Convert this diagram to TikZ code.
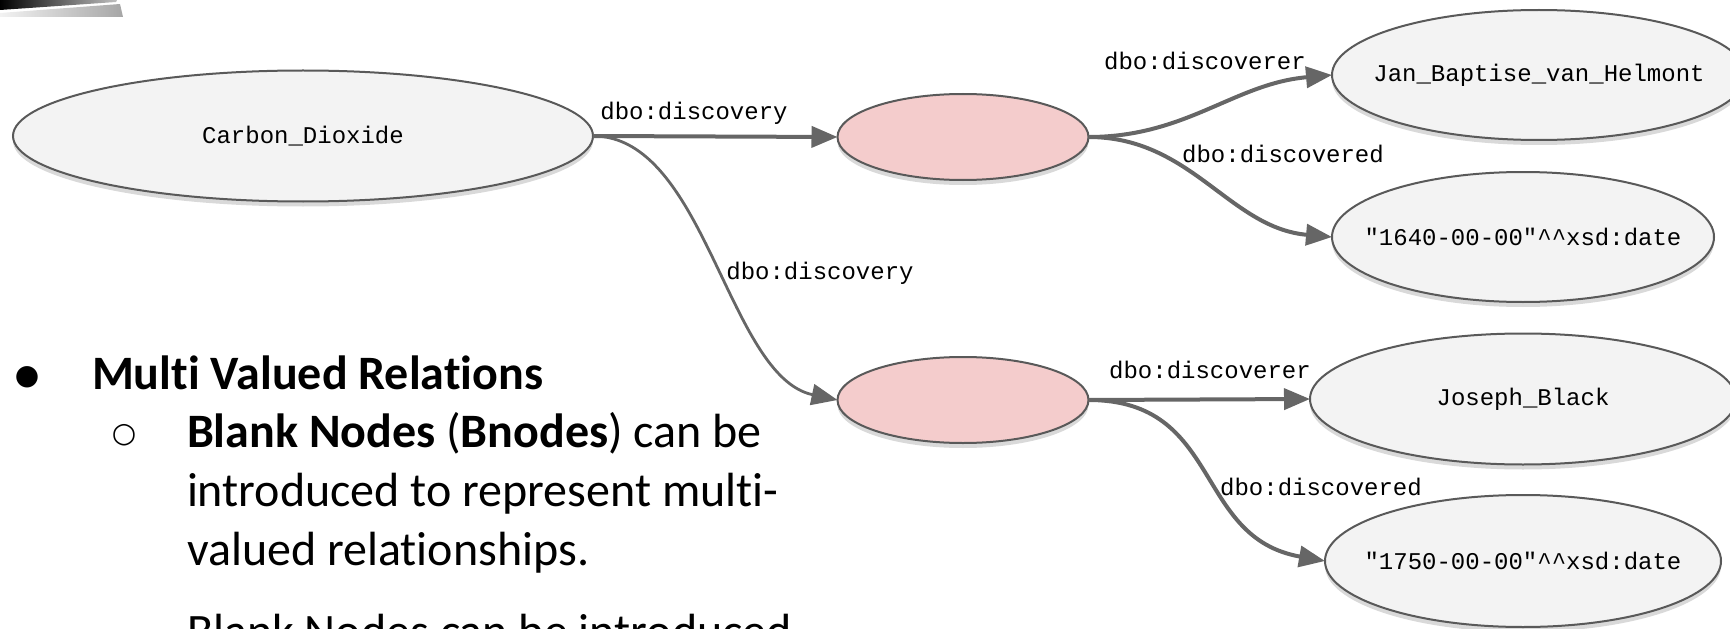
\documentclass[tikz,border=0pt]{standalone}
\usepackage{fontspec}
\setmainfont{Carlito}[Ligatures={NoCommon}]
\setmonofont{Liberation Mono}
\newfontfamily\bulletfont{DejaVu Sans}
\usepackage{xcolor}
\usetikzlibrary{shapes.geometric,shadows,arrows.meta}
\definecolor{nodefill}{HTML}{F3F3F3}
\definecolor{blankfill}{HTML}{F4CCCC}
\definecolor{edgegray}{HTML}{666666}
\definecolor{linegray}{HTML}{595959}

\begin{document}
\begin{tikzpicture}[x=0.5pt, y=0.5pt,
    every node/.style = {inner sep=0pt, outer sep=0pt},
    res/.style = {ellipse, draw=linegray, line width=1pt, fill=nodefill,
      inner xsep=-40pt,
      drop shadow={shadow xshift=0pt, shadow yshift=-2.5pt, opacity=0.3},
      font=\ttfamily\fontsize{12}{14}\selectfont},
    bnode/.style = {res, fill=blankfill, minimum width=125.5pt, minimum height=43pt},
    rel/.style = {draw=edgegray, line width=2pt,
      -{Triangle[length=13pt,width=10.5pt]}},
    thinrel/.style = {rel, line width=1.4pt},
    lbl/.style = {font=\ttfamily\fontsize{12}{14}\selectfont},
    bul/.style = {font=\bulletfont\fontsize{14}{16}\selectfont},
    txt/.style = {anchor=base west, font=\fontsize{24}{29}\selectfont}]
    \useasboundingbox (0,0) rectangle (1730,628);
    \shade[left color=gray!10, right color=gray!70]
      (0,611) -- (0,615) -- (120,624) -- (123,611) -- cycle;
    \shade[left color=black, right color=gray!50]
      (0,618) -- (0,628) -- (117,628) -- (116,626) -- cycle;

    \node[res, minimum width=290pt, minimum height=65.5pt] (cd) at (303,492) {Carbon\_Dioxide};
    \node[bnode] (b1) at (963,491) {};
    \node[bnode] (b2) at (963,228) {};
    \node[res, minimum width=207pt, minimum height=65pt] (jan) at (1539,553) {Jan\_Baptise\_van\_Helmont};
    \node[res, minimum width=191pt, minimum height=65pt] (d1640) at (1523,391)
      {"1640-00-00"\textasciicircum\textasciicircum xsd:date};
    \node[res, minimum width=213pt, minimum height=65.5pt] (jb) at (1523,229) {Joseph\_Black};
    \node[res, minimum width=198pt, minimum height=66pt] (d1750) at (1523,67)
      {"1750-00-00"\textasciicircum\textasciicircum xsd:date};

    \draw[rel] (cd.east) -- (b1.west);
    \draw[thinrel] (cd.east) to[out=0, in=168, looseness=0.8] (b2.west);
    \draw[rel] (b1.east) to[out=0, in=185] (jan.west);
    \draw[rel] (b1.east) to[out=0, in=175] (d1640.west);
    \draw[rel] (b2.east) -- (jb.west);
    \draw[rel] (b2.east) to[out=0, in=170, looseness=1.2] (d1750.west);

    \node[lbl] (l1) at (694,515) {dbo:discovery};
    \node[lbl] (l2) at (820,355) {dbo:discovery};
    \node[lbl] (l3) at (1205,567) {dbo:discoverer};
    \node[lbl] (l4) at (1283,474) {dbo:discovered};
    \node[lbl] (l5) at (1210,258) {dbo:discoverer};
    \node[lbl] (l6) at (1321,141) {dbo:discovered};

    \node[bul] (bul1) at (27,251) {●};
    \node[txt] (t1) at (92,239) {\textbf{Multi Valued Relations}};
    \node[bul] (bul2) at (124,193) {○};
    \node[txt] (t2) at (187,181) {\textbf{Blank Nodes} (\textbf{Bnodes}) can be};
    \node[txt] (t3) at (187,122) {introduced to represent multi-};
    \node[txt] (t4) at (187,63) {valued relationships.};
    \node[bul] (bul3) at (124,-13) {○};
    \node[txt] (t5) at (187,-19) {Blank Nodes can be introduced};
\end{tikzpicture}
\end{document}
